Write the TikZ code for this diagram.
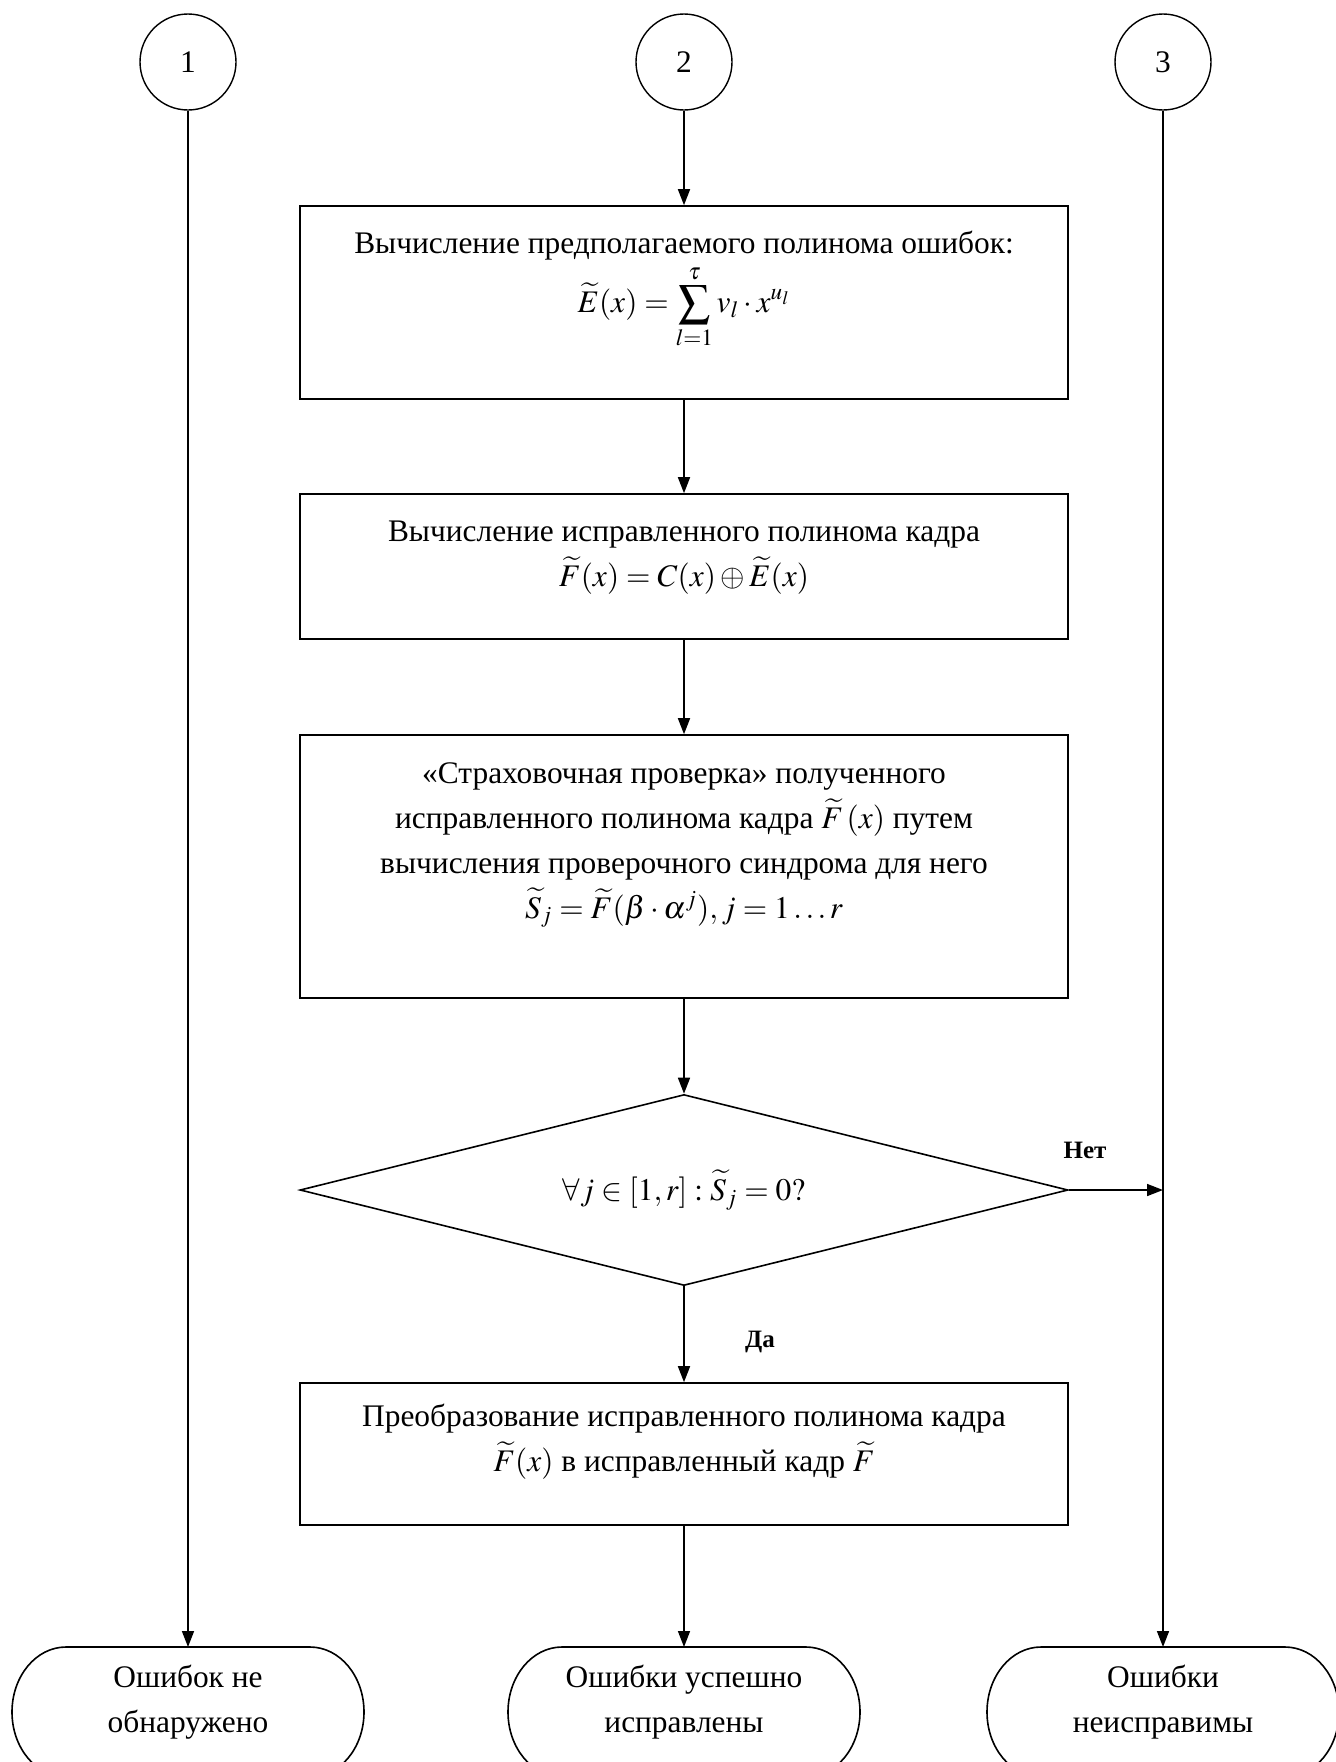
\documentclass[tikz,border=0pt]{standalone}
\usepackage{mathptmx}
\usepackage[no-math]{fontspec}
\setmainfont{Liberation Serif}
\usetikzlibrary{arrows.meta,shapes.geometric}
\newcommand\termshape[1]{\draw[shift={(#1,1712)}] (-122,-65) -- (122,-65) arc[start angle=-90,end angle=90,x radius=54,y radius=65] -- (-122,65) arc[start angle=90,end angle=270,x radius=54,y radius=65] -- cycle;}
\begin{document}
\begin{tikzpicture}[x=0.5pt,y=-0.5pt,line width=0.8pt,
  font=\fontsize{15.7}{22.5}\selectfont,
  box/.style={draw, minimum width=384pt, inner sep=0pt},
  txt/.style={align=center, inner sep=0pt},
  conn/.style={-{Triangle[length=8pt,width=6pt]}},
  circ/.style={draw, circle, minimum size=48pt, inner sep=0pt, line width=0.7pt},
  lbl/.style={font=\fontsize{12.5}{14}\selectfont\bfseries, inner sep=0pt}]
\path[use as bounding box, fill=white] (0,0) rectangle (1335,1762);

% connectors' start circles
\node[circ] (c1) at (188,62) {1};
\node[circ] (c2) at (684,62) {2};
\node[circ] (c3) at (1163,62) {3};

% boxes
\node[box, minimum height=96.5pt] (b1) at (684,302.5) {};
\node[txt] (b1t) at (684,290) {Вычисление предполагаемого полинома ошибок:\\[1pt]
  $\displaystyle \widetilde{E}(x) = \sum_{l=1}^{\tau} v_{l}\cdot x^{u_{l}}$};

\node[box, minimum height=72.5pt] (b2) at (684,566.5) {};
\node[txt] (b2t) at (684,558) {Вычисление исправленного полинома кадра\\
  $\widetilde{F}(x) = C(x) \oplus \widetilde{E}(x)$};

\node[box, minimum height=131.5pt] (b3) at (684,866.5) {};
\node[txt] (b3t) at (684,845) {«Страховочная проверка» полученного\\
  исправленного полинома кадра $\widetilde{F}\left(x\right)$ путем\\
  вычисления проверочного синдрома для него\\
  $\widetilde{S}_{j} = \widetilde{F}(\beta\cdot\alpha^{j}), j = 1\ldots r$};

\node[draw, diamond, shape aspect=4, minimum width=384pt, minimum height=95.5pt, inner sep=0pt] (d) at (684,1190)
  {$\forall j\in[1,r]:\widetilde{S}_{j} = 0?$};

\node[box, minimum height=71pt] (b4) at (684,1454) {};
\node[txt] (b4t) at (684,1442) {Преобразование исправленного полинома кадра\\
  $\widetilde{F}(x)$ в исправленный кадр $\widetilde{F}$};

% terminators
\termshape{188}
\termshape{684}
\termshape{1163}
\node[txt] (t1) at (188,1702) {Ошибок не\\обнаружено};
\node[txt] (t2) at (684,1702) {Ошибки успешно\\исправлены};
\node[txt] (t3) at (1163,1702) {Ошибки\\неисправимы};
\coordinate (t1n) at (188,1647);
\coordinate (t2n) at (684,1647);
\coordinate (t3n) at (1163,1647);

% connectors
\draw[conn] (c2) -- (b1);
\draw[conn] (b1) -- (b2);
\draw[conn] (b2) -- (b3);
\draw[conn] (b3) -- (d);
\draw[conn] (d) -- (b4);
\draw[conn] (b4) -- (t2n);
\draw[conn] (c1) -- (t1n);
\draw[conn] (c3) -- (t3n);
\coordinate (njoin) at (d.east -| c3);
\draw[conn] (d.east) -- (njoin);

\node[lbl] (yes) at (760,1342) {Да};
\node[lbl] (no) at (1085,1150) {Нет};
\end{tikzpicture}
\end{document}
